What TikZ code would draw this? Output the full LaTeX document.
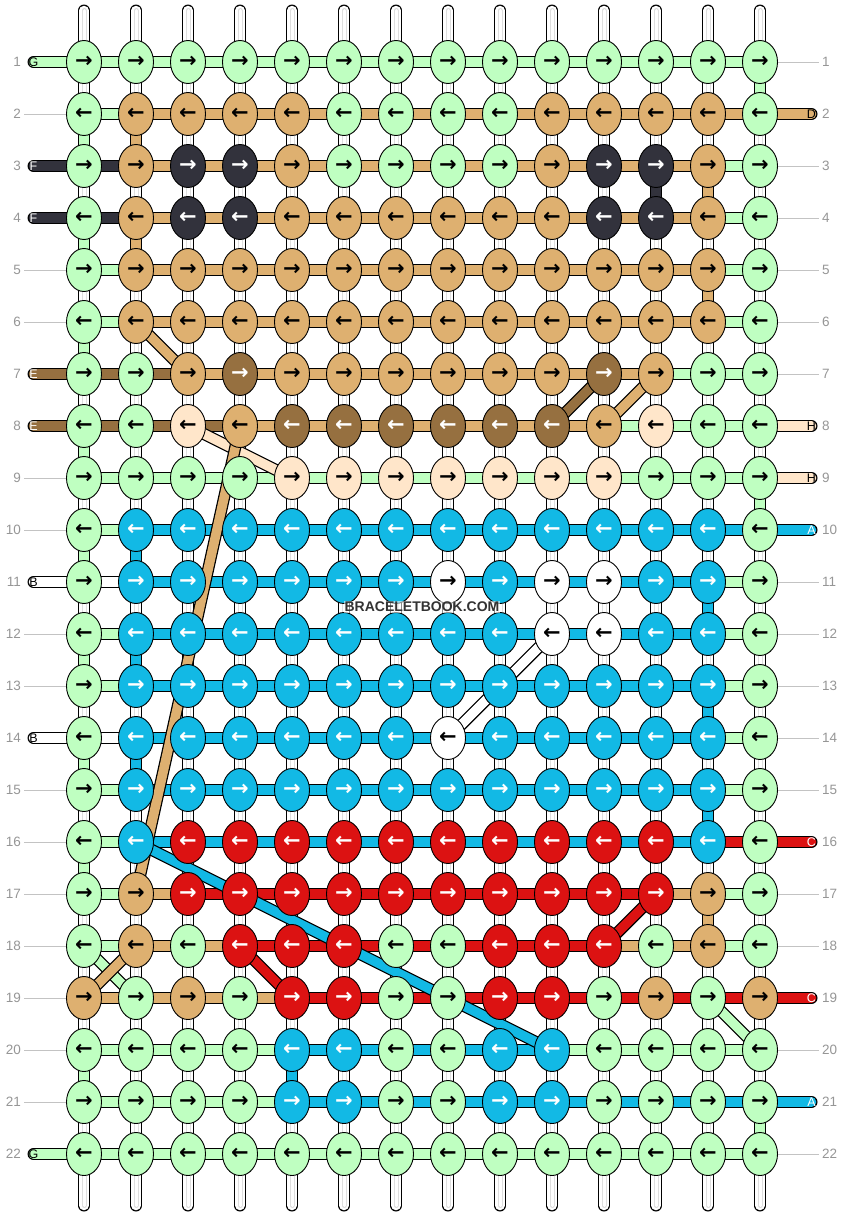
\documentclass[tikz,border=0pt]{standalone}
\usepackage{fontspec}
\setmainfont{Liberation Sans}
\newfontfamily\arrowfont{DejaVu Sans}
\usetikzlibrary{shapes.geometric,backgrounds}

% thread colours
\definecolor{colg}{RGB}{191,255,193}
\definecolor{colt}{RGB}{222,176,112}
\definecolor{colk}{RGB}{50,50,60}
\definecolor{colb}{RGB}{150,112,64}
\definecolor{colp}{RGB}{255,230,202}
\definecolor{cola}{RGB}{18,185,229}
\definecolor{colw}{RGB}{255,255,255}
\definecolor{colr}{RGB}{220,18,18}
\colorlet{txtg}{black}
\colorlet{txtt}{black}
\colorlet{txtk}{white}
\colorlet{txtb}{white}
\colorlet{txtp}{black}
\colorlet{txta}{white}
\colorlet{txtw}{black}
\colorlet{txtr}{white}
\definecolor{labelgray}{RGB}{150,150,150}
\definecolor{linegray}{RGB}{195,195,195}
\definecolor{warpgray}{RGB}{222,222,222}

\newcommand{\band}[3]{%
  \draw[band line] (#2) -- (#3);
  \draw[band line,line width=9.5pt,draw=col#1] (#2) -- (#3);}
\newcommand{\warp}[2]{%
  \draw[band line] (#1) -- (#2);
  \draw[band line,line width=9.5pt,draw=white] (#1) -- (#2);
  \draw[band line,line width=5pt,draw=warpgray] (#1) -- (#2);
  \draw[band line,line width=3pt,draw=white] (#1) -- (#2);}

% row / knot colours / thread between knots
\def\knotrows{%
  1/{g,g,g,g,g,g,g,g,g,g,g,g,g,g}/{g,g,g,g,g,g,g,g,g,g,g,g,g},
  2/{g,t,t,t,t,g,g,g,g,t,t,t,t,g}/{g,t,t,t,t,t,t,t,t,t,t,t,t},
  3/{g,t,k,k,t,g,g,g,g,t,k,k,t,g}/{k,t,t,t,t,t,t,t,t,t,t,t,g},
  4/{g,t,k,k,t,t,t,t,t,t,k,k,t,g}/{k,t,t,t,t,t,t,t,t,t,t,t,g},
  5/{g,t,t,t,t,t,t,t,t,t,t,t,t,g}/{g,t,t,t,t,t,t,t,t,t,t,t,g},
  6/{g,t,t,t,t,t,t,t,t,t,t,t,t,g}/{g,t,t,t,t,t,t,t,t,t,t,t,g},
  7/{g,g,t,b,t,t,t,t,t,t,b,t,g,g}/{b,b,t,t,t,t,t,t,t,t,t,g,g},
  8/{g,g,p,t,b,b,b,b,b,b,t,p,g,g}/{b,b,b,t,t,t,t,t,t,t,g,g,g},
  9/{g,g,g,g,p,p,p,p,p,p,p,g,g,g}/{g,g,g,g,g,g,g,g,g,g,g,g,g},
  10/{g,a,a,a,a,a,a,a,a,a,a,a,a,g}/{g,a,a,a,a,a,a,a,a,a,a,a,a},
  11/{g,a,a,a,a,a,a,w,a,w,w,a,a,g}/{w,a,a,a,a,a,a,a,a,a,a,a,g},
  12/{g,a,a,a,a,a,a,a,a,w,w,a,a,g}/{g,a,a,a,a,a,a,a,a,a,a,a,g},
  13/{g,a,a,a,a,a,a,a,a,a,a,a,a,g}/{g,a,a,a,a,a,a,a,a,a,a,a,g},
  14/{g,a,a,a,a,a,a,w,a,a,a,a,a,g}/{w,a,a,a,a,a,a,a,a,a,a,a,g},
  15/{g,a,a,a,a,a,a,a,a,a,a,a,a,g}/{g,a,a,a,a,a,a,a,a,a,a,a,g},
  16/{g,a,r,r,r,r,r,r,r,r,r,r,a,g}/{g,a,a,a,a,a,a,a,a,a,a,a,r},
  17/{g,t,r,r,r,r,r,r,r,r,r,r,t,g}/{g,t,r,r,r,r,r,r,r,r,r,t,g},
  18/{g,t,g,r,r,r,g,g,r,r,r,g,t,g}/{g,t,t,r,r,r,r,r,r,r,t,t,g},
  19/{t,g,t,g,r,r,g,g,r,r,g,t,g,t}/{t,t,t,t,r,r,r,r,r,r,r,r,r},
  20/{g,g,g,g,a,a,g,g,a,a,g,g,g,g}/{g,g,g,g,a,a,a,a,a,g,g,g,g},
  21/{g,g,g,g,a,a,g,g,a,a,g,g,g,g}/{g,g,g,g,a,a,a,a,a,a,a,a,a},
  22/{g,g,g,g,g,g,g,g,g,g,g,g,g,g}/{g,g,g,g,g,g,g,g,g,g,g,g,g}}

\begin{document}
\begin{tikzpicture}
  [x=1pt,y=-1pt,
   knot node/.style={ellipse,draw,line width=0.9pt,minimum width=35pt,
     minimum height=43pt,inner sep=0pt,
     font=\arrowfont\bfseries\fontsize{21}{21}\selectfont},
   knot colour/.style={fill=col#1,text=txt#1},
   band line/.style={line width=12pt,line cap=round,draw=black},
   row label/.style={text=labelgray,font=\fontsize{13.5}{13.5}\selectfont,inner sep=3pt},
   end label/.style={font=\fontsize{12.5}{12.5}\selectfont,inner sep=0pt},
   row line/.style={draw=linegray,line width=1pt},
   watermark/.style={fill=white,fill opacity=0.55,text opacity=1,text=black!80,
     inner sep=1pt,font=\bfseries\fontsize{14}{14}\selectfont}]
  \useasboundingbox (0,0) rectangle (844,1216);

  % knots
  \foreach \r/\kl/\sl in \knotrows {
    \foreach \k [count=\c] in \kl
      \node[knot node,knot colour=\k] (k-\r-\c) at ({84+52*(\c-1)},{62+52*(\r-1)})
        {\ifodd\r\relax →\else ←\fi};
    \node[row label,anchor=east] (nl-\r) at (24,{62+52*(\r-1)}) {\r};
    \node[row label,anchor=west] (nr-\r) at (819,{62+52*(\r-1)}) {\r};
    \coordinate (le-\r) at (33.5,{62+52*(\r-1)});
    \coordinate (re-\r) at (811.5,{62+52*(\r-1)});
  }

  % thread ends
  \foreach \r/\lt/\k in {1/G/g,3/F/k,4/F/k,7/E/b,8/E/b,11/B/w,14/B/w,22/G/g}
    \node[end label,text=txt\k] (el-\r) at (le-\r) {\lt};
  \foreach \r/\lt/\k in {2/D/t,8/H/p,9/H/p,10/A/a,16/C/r,19/C/r,21/A/a}
    \node[end label,text=txt\k] (er-\r) at (re-\r) {\lt};

  \node[watermark] (wm) at (422,607) {BRACELETBOOK.COM};

  \begin{pgfonlayer}{background}
    \fill[white] (0,0) rectangle (844,1216);
    % warp strings
    \foreach \c in {1,...,14} {
      \coordinate (top-\c) at ({84+52*(\c-1)},10.5);
      \coordinate (bot-\c) at ({84+52*(\c-1)},1205.5);
      \warp{top-\c}{k-1-\c.center}
      \warp{k-22-\c.center}{bot-\c}
      \foreach \r in {1,...,21} {
        \pgfmathtruncatemacro{\rn}{\r+1}
        \warp{k-\r-\c.center}{k-\rn-\c.center}
      }
    }
    % coloured steps between rows
    \foreach \r/\c/\k in {1/14/g,2/1/g,2/2/t,3/12/k,3/13/t,4/1/g,4/2/t,5/13/t,
        6/1/g,8/1/g,9/14/g,10/1/g,10/2/a,11/13/a,12/1/g,12/2/a,13/13/a,14/1/g,
        14/2/a,15/13/a,16/1/g,17/13/t,20/1/g,20/5/a,21/14/g} {
      \pgfmathtruncatemacro{\rn}{\r+1}
      \band{\k}{k-\r-\c.center}{k-\rn-\c.center}
    }
    % threads along the rows
    \foreach \r/\kl/\sl in \knotrows {
      \foreach \s [count=\c] in \sl {
        \pgfmathtruncatemacro{\cn}{\c+1}
        \band{\s}{k-\r-\c.center}{k-\r-\cn.center}
      }
    }
    \foreach \r/\lt/\k in {1/G/g,3/F/k,4/F/k,7/E/b,8/E/b,11/B/w,14/B/w,22/G/g}
      {\band{\k}{le-\r}{k-\r-1.center}}
    \foreach \r/\lt/\k in {2/D/t,8/H/p,9/H/p,10/A/a,16/C/r,19/C/r,21/A/a}
      {\band{\k}{k-\r-14.center}{re-\r}}
    % threads that jump
    \foreach \ra/\ca/\rb/\cb/\k in {6/2/7/3/t,7/11/8/10/b,7/12/8/11/t,8/3/9/5/p,
        8/4/17/2/t,12/10/13/9/w,13/9/14/8/w,16/2/20/10/a,17/12/18/11/r,
        18/1/19/2/g,18/2/19/1/t,18/4/19/5/r,19/13/20/14/g}
      {\band{\k}{k-\ra-\ca.center}{k-\rb-\cb.center}}
    % row number lines
    \foreach \r in {2,5,6,9,10,12,13,15,16,17,18,19,20,21}
      \draw[row line] (nl-\r) -- (k-\r-1);
    \foreach \r in {1,3,4,5,6,7,11,12,13,14,15,17,18,20,22}
      \draw[row line] (k-\r-14) -- (nr-\r);
  \end{pgfonlayer}
\end{tikzpicture}
\end{document}
